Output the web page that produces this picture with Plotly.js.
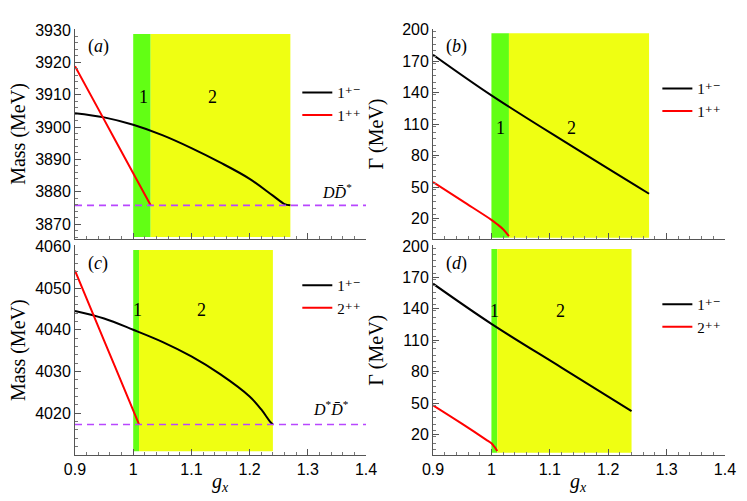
<!DOCTYPE html>
<html>
<head>
<meta charset="utf-8">
<script src="https://cdn.plot.ly/plotly-3.0.1.min.js"></script>
<style>
  html, body { margin: 0; padding: 0; background: #fff; }
  #plot { width: 747px; height: 501px; }
</style>
</head>
<body>
<div id="plot"></div>
<script>
// panel (a): masses, 1+- and 1++
const gA_pm = [0.9, 0.95, 1.0, 1.05, 1.1, 1.15, 1.2, 1.24, 1.26, 1.27];
const massA_pm = [3904.3, 3903.0, 3900.7, 3897.5, 3893.5, 3889.0, 3884.0, 3878.8, 3876.2, 3875.8];
const gA_pp = [0.9, 0.95, 1.0, 1.03];
const massA_pp = [3918.8, 3902.3, 3885.7, 3875.8];

// panel (b): widths, 1+- and 1++
const gB_pm = [0.9, 1.0, 1.135, 1.27];
const widthB_pm = [176, 137.4, 90, 43.8];
const gB_pp = [0.9, 0.95, 1.0, 1.01, 1.02, 1.03];
const widthB_pp = [55, 37, 19, 14.8, 10, 3.5];

// panel (c): masses, 1+- and 2++
const gC_pm = [0.9, 0.95, 1.0, 1.05, 1.1, 1.15, 1.2, 1.22, 1.235, 1.24];
const massC_pm = [4044.5, 4042.7, 4040.0, 4037.1, 4033.6, 4029.3, 4024.0, 4020.9, 4018.0, 4017.3];
const gC_pp = [0.9, 0.95, 1.0, 1.01];
const massC_pp = [4054.2, 4037.4, 4020.7, 4017.3];

// panel (d): widths, 1+- and 2++
const gD_pm = [0.9, 1.0, 1.12, 1.24];
const widthD_pm = [164, 125.7, 84, 42.5];
const gD_pp = [0.9, 0.95, 0.99, 1.0, 1.005, 1.01];
const widthD_pp = [48, 30.3, 15.6, 11.8, 8.6, 4.5];

// thresholds and g_x regions (start of 1, start of 2, end)
const thrDDs = 3875.8;
const thrDsDs = 4017.3;
const regionsTop = [1.0, 1.03, 1.27];
const regionsBottom = [1.0, 1.01, 1.24];
const gRange = [0.9, 1.4];

const serif = 'Liberation Serif, DejaVu Serif, serif';
const sans = 'Liberation Sans, Arial, sans-serif';
const green = '#62ff14';
const yellow = '#efff12';
const purple = '#b847ff';

const curve = (x, y, color, name, xa, ya, leg) => ({
    x: x, y: y, type: 'scatter', mode: 'lines',
    line: {color: color, width: 2, shape: 'spline', smoothing: 1},
    name: name, xaxis: xa, yaxis: ya, legend: leg
});
const thrLine = (y, xa, ya) => ({
    x: gRange, y: [y, y], type: 'scatter', mode: 'lines',
    line: {color: purple, width: 1.6, dash: '7px,5px'},
    xaxis: xa, yaxis: ya, showlegend: false, hoverinfo: 'skip'
});

const data = [
    curve(gA_pm, massA_pm, 'black', '1⁺⁻', 'x', 'y', 'legend'),
    curve(gA_pp, massA_pp, 'red', '1⁺⁺', 'x', 'y', 'legend'),
    thrLine(thrDDs, 'x', 'y'),
    curve(gB_pm, widthB_pm, 'black', '1⁺⁻', 'x2', 'y2', 'legend2'),
    curve(gB_pp, widthB_pp, 'red', '1⁺⁺', 'x2', 'y2', 'legend2'),
    curve(gC_pm, massC_pm, 'black', '1⁺⁻', 'x3', 'y3', 'legend3'),
    curve(gC_pp, massC_pp, 'red', '2⁺⁺', 'x3', 'y3', 'legend3'),
    thrLine(thrDsDs, 'x3', 'y3'),
    curve(gD_pm, widthD_pm, 'black', '1⁺⁻', 'x4', 'y4', 'legend4'),
    curve(gD_pp, widthD_pp, 'red', '2⁺⁺', 'x4', 'y4', 'legend4')
];

const xAxis = (domain, anchor, labels) => ({
    domain: domain, anchor: anchor, range: gRange,
    tickvals: [0.9, 1.0, 1.1, 1.2, 1.3, 1.4],
    ticktext: ['0.9', '1', '1.1', '1.2', '1.3', '1.4'],
    showticklabels: labels,
    ticks: 'inside', ticklen: 6, tickcolor: '#555',
    minor: {ticks: 'inside', ticklen: 3, dtick: 0.02, tickcolor: '#777'},
    showline: true, linecolor: '#555', linewidth: 1,
    showgrid: false, zeroline: false,
    tickfont: {family: sans, size: 16, color: '#000'}
});
const yAxis = (domain, anchor, range, vals, minorStep, title) => ({
    domain: domain, anchor: anchor, range: range,
    tickvals: vals,
    ticks: 'inside', ticklen: 6, tickcolor: '#555',
    minor: {ticks: 'inside', ticklen: 3, dtick: minorStep, tickcolor: '#777'},
    showline: true, linecolor: '#555', linewidth: 1,
    showgrid: false, zeroline: false,
    tickfont: {family: sans, size: 16, color: '#000'},
    title: {text: title, font: {family: serif, size: 20, color: '#000'}}
});

const rect = (x0, x1, y0, y1, color, xa, ya) => ({
    type: 'rect', xref: xa, yref: ya, x0: x0, x1: x1, y0: y0, y1: y1,
    fillcolor: color, line: {width: 0}, layer: 'below'
});
const label = (text, x, y, xa, ya, size, extra) => Object.assign({
    text: text, x: x, y: y, xref: xa, yref: ya, showarrow: false,
    xanchor: 'center', yanchor: 'middle',
    font: {family: serif, size: size, color: '#000'}
}, extra || {});

const legendBox = (x, y) => ({
    x: x, y: y, xanchor: 'left', yanchor: 'top',
    bgcolor: 'rgba(0,0,0,0)', itemwidth: 30, tracegroupgap: 0,
    font: {family: serif, size: 15, color: '#000'}
});

const topDom = [0.523, 0.942];
const botDom = [0.092, 0.510];
const leftDom = [0.1004, 0.49];
const rightDom = [0.5797, 0.9705];
const gTicks = [20, 50, 80, 110, 140, 170, 200];
const gxTitle = '<i>g</i><sub><i>x</i></sub>';

const layout = {
    width: 747, height: 501,
    margin: {l: 0, r: 0, t: 0, b: 0},
    paper_bgcolor: '#fff', plot_bgcolor: 'rgba(0,0,0,0)',
    xaxis: xAxis(leftDom, 'y', false),
    yaxis: yAxis(topDom, 'x', [3865.4, 3930.3], [3870, 3880, 3890, 3900, 3910, 3920, 3930], 2, 'Mass (MeV)'),
    xaxis2: xAxis(rightDom, 'y2', false),
    yaxis2: yAxis(topDom, 'x2', [0.8, 200.4], gTicks, 6, 'Γ (MeV)'),
    xaxis3: xAxis(leftDom, 'y3', true),
    yaxis3: yAxis(botDom, 'x3', [4010.0, 4060.2], [4020, 4030, 4040, 4050, 4060], 2, 'Mass (MeV)'),
    xaxis4: xAxis(rightDom, 'y4', true),
    yaxis4: yAxis(botDom, 'x4', [0.8, 200.4], gTicks, 6, 'Γ (MeV)'),
    shapes: [
        rect(regionsTop[0], regionsTop[1], 3866, 3928.8, green, 'x', 'y'),
        rect(regionsTop[1], regionsTop[2], 3866, 3928.8, yellow, 'x', 'y'),
        rect(regionsTop[0], regionsTop[1], 2, 196.5, green, 'x2', 'y2'),
        rect(regionsTop[1], regionsTop[2], 2, 196.5, yellow, 'x2', 'y2'),
        rect(regionsBottom[0], regionsBottom[1], 4010.9, 4059.1, green, 'x3', 'y3'),
        rect(regionsBottom[1], regionsBottom[2], 4010.9, 4059.1, yellow, 'x3', 'y3'),
        rect(regionsBottom[0], regionsBottom[1], 2.9, 197, green, 'x4', 'y4'),
        rect(regionsBottom[1], regionsBottom[2], 2.9, 197, yellow, 'x4', 'y4')
    ],
    annotations: [
        label('(<i>a</i>)', 0.94, 3925, 'x', 'y', 18),
        label('1', 1.017, 3909.4, 'x', 'y', 18),
        label('2', 1.137, 3909.4, 'x', 'y', 18),
        label('<i>D</i><i>D̄</i><sup>*</sup>', 1.35, thrDDs, 'x', 'y', 16, {yanchor: 'bottom', yshift: 2}),
        label('(<i>b</i>)', 0.94, 183.5, 'x2', 'y2', 18),
        label('1', 1.015, 106.7, 'x2', 'y2', 18),
        label('2', 1.137, 106.7, 'x2', 'y2', 18),
        label('(<i>c</i>)', 0.94, 4056, 'x3', 'y3', 18),
        label('1', 1.007, 4044.8, 'x3', 'y3', 18),
        label('2', 1.118, 4044.8, 'x3', 'y3', 18),
        label('<i>D</i><sup>*</sup><i>D̄</i><sup>*</sup>', 1.34, thrDsDs, 'x3', 'y3', 16, {yanchor: 'bottom', yshift: 4}),
        label('(<i>d</i>)', 0.94, 183.5, 'x4', 'y4', 18),
        label('1', 1.005, 138.4, 'x4', 'y4', 18),
        label('2', 1.119, 138.4, 'x4', 'y4', 18),
        label(gxTitle, 1.15, 0.036, 'x3', 'paper', 20),
        label(gxTitle, 1.15, 0.036, 'x4', 'paper', 20)
    ],
    legend: legendBox(0.398, 0.848),
    legend2: legendBox(0.880, 0.856),
    legend3: legendBox(0.398, 0.463),
    legend4: legendBox(0.880, 0.425)
};

Plotly.newPlot(document.getElementById('plot'), data, layout, {staticPlot: true});
</script>
</body>
</html>
